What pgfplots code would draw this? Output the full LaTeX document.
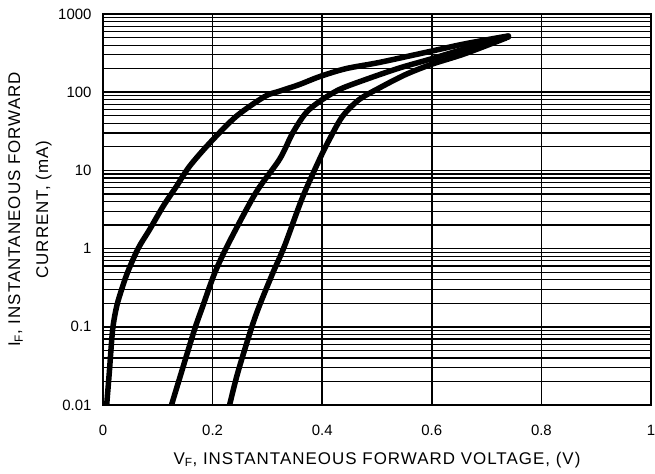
\documentclass[border=0pt]{standalone}
\usepackage{pgfplots}
\pgfplotsset{compat=1.18}
\usetikzlibrary{calc}
\usepackage{fontspec}
\setmainfont{Liberation Sans}
\newfontfamily\labfont[LetterSpace=6]{Liberation Sans}
\begin{document}
\begin{tikzpicture}
\pgfplotsset{curve/.style={black, line width=5.5bp, line cap=round, line join=round, no marks, smooth, tension=0.5}}
\begin{semilogyaxis}[
  scale only axis, width=548bp, height=391bp,
  xmin=0, xmax=1, ymin=0.01, ymax=1000,
  xtick={0,0.2,0.4,0.6,0.8,1}, xticklabels={0,0.2,0.4,0.6,0.8,1},
  ytick={0.01,0.1,1,10,100,1000}, yticklabels={0.01,0.1,1,10,100,1000},
  minor ytick={0.02,0.03,0.04,0.05,0.06,0.07,0.08,0.09,0.2,0.3,0.4,0.5,0.6,0.7,0.8,0.9,2,3,4,5,6,7,8,9,20,30,40,50,60,70,80,90,200,300,400,500,600,700,800,900},
  xmajorgrids, ymajorgrids, yminorgrids,
  major grid style={black, line width=1.5bp},
  minor grid style={black, line width=1.2bp},
  axis line style={line width=1.6bp},
  tick style={draw=none},
  major tick length=0pt, minor tick length=0pt,
  ticklabel style={font=\fontsize{15}{18}\selectfont},
  yticklabel style={xshift=-8bp},
  xticklabel style={yshift=-17bp},
]
\addplot[curve] coordinates {
(0.0067,0.01) (0.0115,0.026) (0.0176,0.092) (0.025,0.183) (0.034,0.30) (0.045,0.5)
(0.064,1.0) (0.085,1.75) (0.11,3.5) (0.134,6.25) (0.158,11.3) (0.195,22.5) (0.243,49)
(0.295,88) (0.322,103) (0.358,125) (0.395,158) (0.443,200) (0.504,240) (0.595,330)
(0.66,415) (0.74,525)
};
\addplot[curve] coordinates {
(0.125,0.01) (0.143,0.026) (0.167,0.092) (0.182,0.183) (0.204,0.49) (0.23,1.2)
(0.279,5.2) (0.322,13.8) (0.346,30) (0.37,54) (0.395,76) (0.431,108)
(0.479,145) (0.54,203) (0.6,268) (0.66,358) (0.74,508)
};
\addplot[curve] coordinates {
(0.231,0.01) (0.246,0.026) (0.270,0.092) (0.285,0.183) (0.310,0.49) (0.331,1.07)
(0.364,4.5) (0.395,13.8) (0.413,24.8) (0.437,49) (0.467,80) (0.504,113)
(0.552,168) (0.6,228) (0.66,310) (0.735,492)
};
\coordinate (sw) at (axis description cs:0,0);
\coordinate (ne) at (axis description cs:1,1);
\coordinate (yl) at (axis description cs:0,0.5);
\coordinate (xl) at (axis description cs:0.5,0);
\end{semilogyaxis}
\node[rotate=90, align=center, font=\labfont\fontsize{17}{28}\selectfont, anchor=center] at ($(yl)+(-73bp,0)$) {I\textsubscript{F}, INSTANTANEOUS FORWARD\\CURRENT, (mA)};
\node[font=\labfont\fontsize{17}{20}\selectfont, anchor=center] at ($(xl)+(0,-55bp)$) {V\textsubscript{F}, INSTANTANEOUS FORWARD VOLTAGE, (V)};
\pgfresetboundingbox
\path[use as bounding box] ($(sw)+(-103bp,-69bp)$) rectangle ($(ne)+(4bp,14bp)$);
\end{tikzpicture}
\end{document}
